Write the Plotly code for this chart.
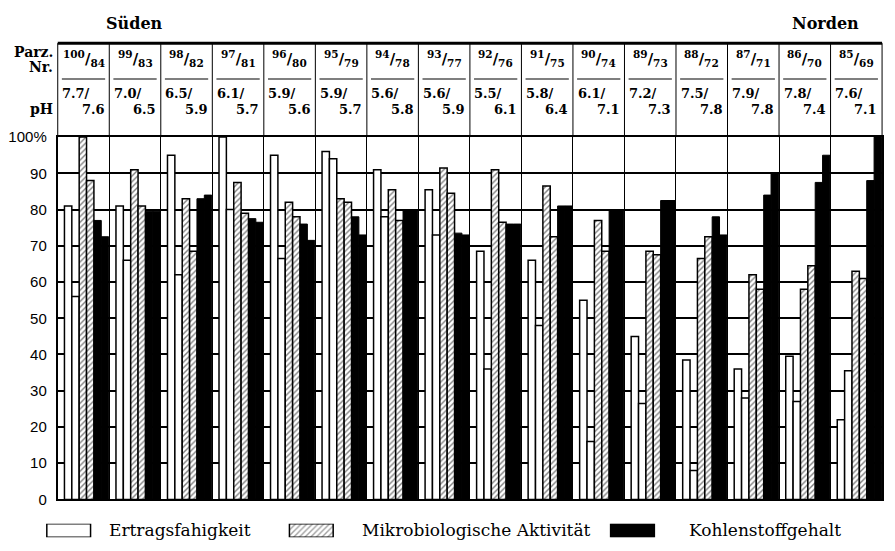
import plotly.graph_objects as go

# the page body has an 8px margin, so the figure is drawn 8px in from the window edge
OFF = 8
FW, FH = 895 - OFF, 551 - OFF

# Parzellen-Paare (Süden -> Norden) und pH-Werte
PARZ_A = ["100", "99", "98", "97", "96", "95", "94", "93", "92", "91", "90", "89", "88", "87", "86", "85"]
PARZ_B = ["84", "83", "82", "81", "80", "79", "78", "77", "76", "75", "74", "73", "72", "71", "70", "69"]
PH_A = ["7.7", "7.0", "6.5", "6.1", "5.9", "5.9", "5.6", "5.6", "5.5", "5.8", "6.1", "7.2", "7.5", "7.9", "7.8", "7.6"]
PH_B = ["7.6", "6.5", "5.9", "5.7", "5.6", "5.7", "5.8", "5.9", "6.1", "6.4", "7.1", "7.3", "7.8", "7.8", "7.4", "7.1"]

# Werte in % (erste / zweite Parzelle jedes Paares)
ERTRAG_A = [81, 81, 95, 100, 95, 96, 91, 85.5, 68.5, 66, 55, 45, 38.5, 36, 39.5, 22]
ERTRAG_B = [56, 66, 62, 80, 66.5, 94, 78, 73, 36, 48, 16, 26.5, 8, 28, 27, 35.5]
MIKRO_A = [100, 91, 83, 87.5, 82, 83, 85.5, 91.5, 91, 86.5, 77, 68.5, 66.5, 62, 58, 63]
MIKRO_B = [88, 81, 68.5, 79, 78, 82, 77, 84.5, 76.5, 72.5, 68.5, 67.5, 72.5, 58, 64.5, 61]
KOHLE_A = [77, 79.5, 83, 77.5, 76, 78, 80, 73.5, 76, 81, 80, 82.5, 78, 84, 87.5, 88]
KOHLE_B = [72.5, 79.5, 84, 76.5, 71.5, 73, 80, 73, 76, 81, 80, 82.5, 73, 90, 95, 100]

LEGEND = ["Ertragsfahigkeit", "Mikrobiologische Aktivität", "Kohlenstoffgehalt"]
Y_TICKS = list(range(0, 101, 10))
Y_TICKTEXT = [str(v) for v in Y_TICKS[:-1]] + ["100%"]

SERIF = "DejaVu Serif"
SANS = "Liberation Sans"


def pxx(sx):
    # screen pixel column -> paper x
    return (sx - OFF) / FW


def pyy(sy):
    # screen pixel row -> paper y
    return 1 - (sy - OFF) / FH


n = len(PARZ_A)
PLOT_L, PLOT_R = 53, 882
TOP_PX, BOT_PX = 132, 506
X_DOM = [pxx(PLOT_L), pxx(PLOT_R)]


def xdata_to_paper(x):
    return X_DOM[0] + x / n * (X_DOM[1] - X_DOM[0])


X0, BW = 0.13, 0.143  # start of first bar inside a group, bar width (group = 1)

styles = [
    dict(color="white", line=dict(color="black", width=1.5)),
    dict(color="white", line=dict(color="black", width=1.5),
         pattern=dict(shape="/", fgcolor="black", bgcolor="white", size=4, solidity=0.35)),
    dict(color="black", line=dict(color="black", width=1)),
]
series = [(ERTRAG_A, ERTRAG_B), (MIKRO_A, MIKRO_B), (KOHLE_A, KOHLE_B)]

fig = go.Figure()
for s, (va, vb) in enumerate(series):
    xa = [i + X0 + (2 * s + 0.5) * BW for i in range(n)]
    xb = [i + X0 + (2 * s + 1.5) * BW for i in range(n)]
    fig.add_trace(go.Bar(
        x=xa + xb, y=va + vb, width=BW, name=LEGEND[s],
        marker=styles[s], showlegend=False, cliponaxis=False,
    ))

# legend swatches on a helper axis (screen pixel units)
LEG_SWATCH_X = [64, 308, 631]
LEG_TEXT_X = [103, 357, 686]
LEG_Y = 538
fig.add_trace(go.Bar(
    x=LEG_SWATCH_X, y=[1, 1, 1], width=44, xaxis="x2", yaxis="y2",
    marker=dict(
        color=["white", "white", "black"],
        line=dict(color="black", width=1.5),
        pattern=dict(shape=["", "/", ""], fgcolor="black", bgcolor="white", size=4, solidity=0.35),
    ),
    showlegend=False, hoverinfo="skip",
))

fig.update_layout(
    width=FW, height=FH,
    margin=dict(l=0, r=0, t=0, b=0),
    paper_bgcolor="white", plot_bgcolor="white",
    barmode="overlay",
    xaxis=dict(domain=X_DOM, range=[0, n], tickvals=list(range(n + 1)),
               showticklabels=False, showgrid=True, gridcolor="black", gridwidth=1,
               showline=True, linecolor="black", linewidth=2, mirror=True,
               zeroline=False, ticks=""),
    yaxis=dict(domain=[pyy(BOT_PX), pyy(TOP_PX)], range=[0, 100], tickvals=Y_TICKS,
               ticktext=Y_TICKTEXT, showgrid=True, gridcolor="black", gridwidth=1.5,
               showline=True, linecolor="black", linewidth=2, mirror=True,
               zeroline=False, ticks="", ticklabelstandoff=6,
               tickfont=dict(family=SANS, size=15, color="black")),
    xaxis2=dict(domain=[0, 1], range=[OFF, OFF + FW], visible=False),
    yaxis2=dict(domain=[pyy(LEG_Y + 7), pyy(LEG_Y - 7)], range=[0, 1], visible=False),
)

shapes = []
ann = []
LINE_PX, FRAC_PX = 35, 72


def text(x, y, t, size, xanchor="center", family=SERIF, xref="paper"):
    ann.append(dict(x=x, y=y, xref=xref, yref="paper", showarrow=False,
                    xanchor=xanchor, yanchor="middle", text=t,
                    font=dict(family=family, size=size, color="black")))


# header frame
shapes.append(dict(type="line", xref="paper", yref="paper", x0=X_DOM[0], x1=X_DOM[1],
                   y0=pyy(LINE_PX), y1=pyy(LINE_PX), line=dict(color="black", width=3)))
for i in range(n + 1):
    shapes.append(dict(type="line", xref="paper", yref="paper",
                       x0=xdata_to_paper(i), x1=xdata_to_paper(i),
                       y0=pyy(TOP_PX), y1=pyy(LINE_PX), line=dict(color="black", width=1)))
for i in range(n):
    shapes.append(dict(type="line", xref="paper", yref="paper",
                       x0=xdata_to_paper(i + 0.08), x1=xdata_to_paper(i + 0.92),
                       y0=pyy(FRAC_PX), y1=pyy(FRAC_PX), line=dict(color="black", width=1.2)))
    text(i + 0.5, pyy(51), f"<b><sup>{PARZ_A[i]}</sup>/<sub>{PARZ_B[i]}</sub></b>", 15, xref="x")
    text(i + 0.05, pyy(87), f"<b>{PH_A[i]}/</b>", 13, xanchor="left", xref="x")
    text(i + 0.95, pyy(103), f"<b>{PH_B[i]}</b>", 13, xanchor="right", xref="x")

text(pxx(50), pyy(44), "<b>Parz.</b>", 14, xanchor="right")
text(pxx(50), pyy(60), "<b>Nr.</b>", 14, xanchor="right")
text(pxx(50), pyy(103), "<b>pH</b>", 14, xanchor="right")
text(pxx(130), pyy(15), "<b>Süden</b>", 16)
text(pxx(825), pyy(15), "<b>Norden</b>", 16)
for k, label in enumerate(LEGEND):
    text(pxx(LEG_TEXT_X[k]), pyy(LEG_Y), label, 17, xanchor="left")

fig.update_layout(shapes=shapes, annotations=ann)
fig.write_html("out.html")
